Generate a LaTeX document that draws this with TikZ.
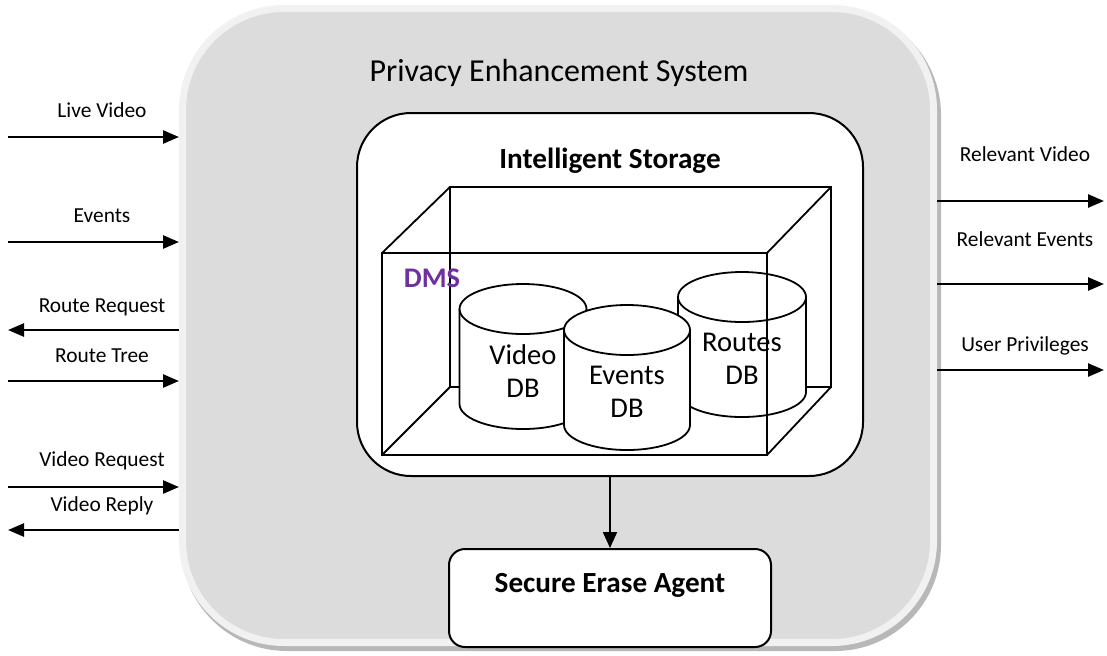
\documentclass[tikz,border=0pt]{standalone}
\usepackage{fontspec}
\setmainfont{Carlito}
\usetikzlibrary{arrows.meta,calc}
\definecolor{PanelClr}{rgb}{0.863,0.863,0.863}
\definecolor{RimClr}{rgb}{0.945,0.945,0.945}
\definecolor{ShadowClr}{rgb}{0.72,0.72,0.72}
\definecolor{DmsClr}{rgb}{0.439,0.188,0.627}

\tikzset{
  flow/.style={line width=1.3pt,-{Triangle[length=8pt,width=6.5pt]}},
  lbl/.style={font=\fontsize{10.7}{13}\selectfont,text height=.64em,text depth=0pt,inner sep=0pt},
  cubeline/.style={line width=.9pt},
  boxtitle/.style={font=\bfseries\fontsize{14.6}{17}\selectfont},
}

\begin{document}
\begin{tikzpicture}[x=0.5pt,y=-0.5pt]
\useasboundingbox (0,0) rectangle (1107,655);

% outer panel with its rim and shadow
\fill[ShadowClr,rounded corners=53pt] (181,9) rectangle (941,651);
\node[draw=RimClr,fill=PanelClr,line width=3.5pt,rounded corners=50.75pt,
  minimum width=375.5pt,minimum height=317pt,inner sep=0pt] (pes) at (558,325.5) {};
\node[font=\fontsize{16}{19}\selectfont] (title) at (559,73) {Privacy Enhancement System};

\node[draw,fill=white,line width=1pt,rounded corners=27pt,
  minimum width=253pt,minimum height=181.5pt] (store) at (610,294.5) {};
\node[boxtitle] (storetitle) at (610,161) {Intelligent Storage};

% back of the box
\draw[cubeline] (450,187) rectangle (831,387);
\draw[cubeline] (450,187) -- (382,253) (831,187) -- (767,253)
  (831,387) -- (767,455) (450,387) -- (382,455);

% databases
\foreach \nm/\cx/\ct/\rx in {Video/523/309/63.5,Routes/742/297/64,Events/627/330/63}{
  \filldraw[fill=white,line width=.9pt] (\cx-\rx,\ct) -- (\cx-\rx,\ct+95)
    arc[start angle=180,end angle=360,x radius=\rx*0.5pt,y radius=12.5pt]
    -- (\cx+\rx,\ct)
    arc[start angle=0,end angle=180,x radius=\rx*0.5pt,y radius=12.5pt] -- cycle;
  \draw[line width=.9pt] (\cx-\rx,\ct)
    arc[start angle=180,end angle=360,x radius=\rx*0.5pt,y radius=12.5pt];
  \node[font=\fontsize{14.3}{16.5}\selectfont,align=center] (\nm-db) at (\cx,\ct+62) {\nm\\DB};
}

% front of the box
\draw[cubeline] (382,253) rectangle (767,455);
\node[font=\bfseries\fontsize{14.2}{17}\selectfont,text=DmsClr] (dms) at (432,278) {DMS};

\node[draw,fill=white,line width=1pt,rounded corners=8pt,
  minimum width=161pt,minimum height=49pt] (erase) at (610,598) {};
\node[boxtitle] (erasetitle) at (610,585) {Secure Erase Agent};
\draw[line width=1pt,-{Triangle[length=8pt,width=7pt]}] (store) -- (erase);

% inputs
\foreach \nm/\y/\ly/\txt in {live/137/111/Live Video,events/242/216/Events,
  tree/381/356/Route Tree,vreq/487/460/Video Request}{
  \coordinate (\nm-src) at (8,\y);
  \draw[flow] (\nm-src) -- (\nm-src -| pes.west);
  \node[lbl] (\nm-lbl) at (102,\ly) {\txt};
}

% outputs
\foreach \nm/\y/\ly/\txt in {rreq/330/306/Route Request,vrep/530/505/Video Reply}{
  \coordinate (\nm-dst) at (8,\y);
  \draw[flow] (\nm-dst -| pes.west) -- (\nm-dst);
  \node[lbl] (\nm-lbl) at (102,\ly) {\txt};
}
\foreach \nm/\y/\ly/\txt in {rvid/201/155/Relevant Video,revt/284/240/Relevant Events,
  priv/370/345/User Privileges}{
  \coordinate (\nm-dst) at (1104,\y);
  \draw[flow] (\nm-dst -| pes.east) -- (\nm-dst);
  \node[lbl] (\nm-lbl) at (1025,\ly) {\txt};
}

\end{tikzpicture}
\end{document}
